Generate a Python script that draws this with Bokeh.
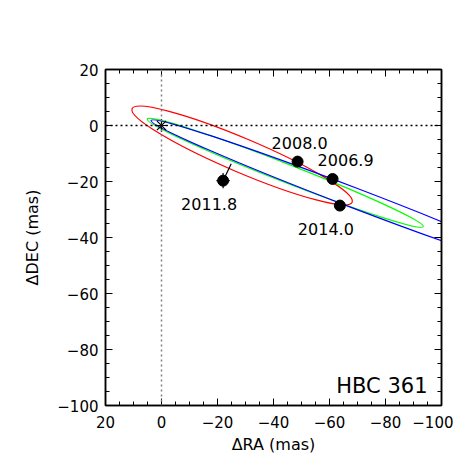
from bokeh.plotting import figure
from bokeh.models import (Range1d, FixedTicker, LinearAxis, Span, Label, ColumnDataSource)
from bokeh.core.properties import value
from bokeh.embed import file_html
from bokeh.resources import INLINE

# ---- data ----
epochs = ["2006.9", "2008.0", "2011.8", "2014.0"]
obs_ra = [-61.1, -48.6, -22.0, -63.7]
obs_dec = [-19.1, -12.9, -19.7, -28.6]
err_ra = [1.5, 1.5, 2.4, 1.5]
err_dec = [1.5, 1.5, 2.7, 1.5]
model_ra = [-61.1, -48.6, -24.9, -63.7]
model_dec = [-19.1, -12.9, -13.7, -28.6]
label_side = ["up", "up", "down", "down"]

# orbit ellipses: centre, full length, full width, position angle (deg)
orb_colors = ["red", "lime", "blue"]
orb_cx = [-28.8, -44.2, -68.5]
orb_cy = [-10.7, -16.9, -25.75]
orb_len = [85.4, 105.8, 154.6]
orb_wid = [12.2, 6.5, 7.1]
orb_pa = [23.0, 21.3, 20.9]

major_ticks = [20, 0, -20, -40, -60, -80, -100]
minor_ticks = list(range(20, -101, -5))
tick_labels = {t: (str(t) if t >= 0 else "\u2212" + str(-t)) for t in major_ticks}
blank_labels = {t: "" for t in major_ticks}

FONT = "DejaVu Sans"

p = figure(frame_width=336, frame_height=336, output_backend="svg", toolbar_location=None,
           x_range=Range1d(20, -100), y_range=Range1d(-100, 20),
           min_border_left=105, min_border_top=69, min_border_right=12, min_border_bottom=50,
           background_fill_color="white", border_fill_color="white")
p.grid.visible = False
p.outline_line_color = "black"
p.outline_line_width = 1.5

def style_axis(ax, show_labels):
    ax.ticker = FixedTicker(ticks=major_ticks, minor_ticks=minor_ticks)
    ax.major_tick_in = 7
    ax.major_tick_out = 0
    ax.minor_tick_in = 4
    ax.minor_tick_out = 0
    ax.axis_line_color = "black"
    ax.axis_line_width = 1.5
    ax.major_tick_line_color = "black"
    ax.minor_tick_line_color = "black"
    ax.major_tick_line_width = 1
    ax.minor_tick_line_width = 1
    if show_labels:
        ax.major_label_overrides = tick_labels
        ax.major_label_text_font = FONT
        ax.major_label_text_font_size = "15px"
        ax.major_label_text_color = "black"
        ax.axis_label_text_font = FONT
        ax.axis_label_text_font_size = "16px"
        ax.axis_label_text_font_style = "normal"
        ax.axis_label_text_color = "black"
    else:
        ax.major_label_overrides = blank_labels
        ax.major_label_standoff = 0

style_axis(p.xaxis[0], True)
style_axis(p.yaxis[0], True)
p.xaxis[0].axis_label = "\u0394RA (mas)"
p.yaxis[0].axis_label = "\u0394DEC (mas)"
p.xaxis[0].major_label_standoff = 10
p.xaxis[0].axis_label_standoff = 4
p.yaxis[0].major_label_standoff = 7
p.yaxis[0].axis_label_standoff = 12

ax_r = LinearAxis()
ax_t = LinearAxis()
style_axis(ax_r, False)
style_axis(ax_t, False)
p.add_layout(ax_r, "right")
p.add_layout(ax_t, "above")

# reference lines
p.add_layout(Span(location=0, dimension="height", line_color="gray", line_dash="2 3", line_width=1.5))
p.add_layout(Span(location=0, dimension="width", line_color="black", line_dash="2 3", line_width=1.5))

# orbits
orb = ColumnDataSource(dict(x=orb_cx, y=orb_cy, w=orb_len, h=orb_wid,
                            a=[-v for v in orb_pa], c=orb_colors))
p.ellipse(x="x", y="y", width="w", height="h", angle="a", angle_units="deg",
          source=orb, fill_color=None, line_color="c", line_width=1.2)

# primary star
p.scatter([0], [0], marker="asterisk", size=13, line_color="black", line_width=1.2)

# observations: O-C line, error bars, points
p.segment(x0=obs_ra, y0=obs_dec, x1=model_ra, y1=model_dec, line_color="black", line_width=1.2)
p.segment(x0=[r - e for r, e in zip(obs_ra, err_ra)], y0=obs_dec,
          x1=[r + e for r, e in zip(obs_ra, err_ra)], y1=obs_dec, line_color="black", line_width=1.2)
p.segment(x0=obs_ra, y0=[d - e for d, e in zip(obs_dec, err_dec)],
          x1=obs_ra, y1=[d + e for d, e in zip(obs_dec, err_dec)], line_color="black", line_width=1.2)
p.scatter(obs_ra, obs_dec, marker="circle", size=11, fill_color="black", line_color="black")

xo = [13 if s == "up" and e == "2006.9" else (2 if s == "up" else -14) for s, e in zip(label_side, epochs)]
yo = [-19 if s == "up" else 23 for s in label_side]
lab = ColumnDataSource(dict(x=obs_ra, y=obs_dec, t=epochs, xo=xo, yo=yo))
p.text(x="x", y="y", text="t", x_offset="xo", y_offset="yo", source=lab,
       text_font=value(FONT), text_font_size="16px", text_align="center",
       text_baseline="middle", text_color="black")

p.add_layout(Label(x=-95, y=-93, text="HBC 361", text_font=FONT, text_font_size="21px",
                   text_align="right", text_baseline="middle", text_color="black"))

open("out.html", "w").write(file_html(p, INLINE))
